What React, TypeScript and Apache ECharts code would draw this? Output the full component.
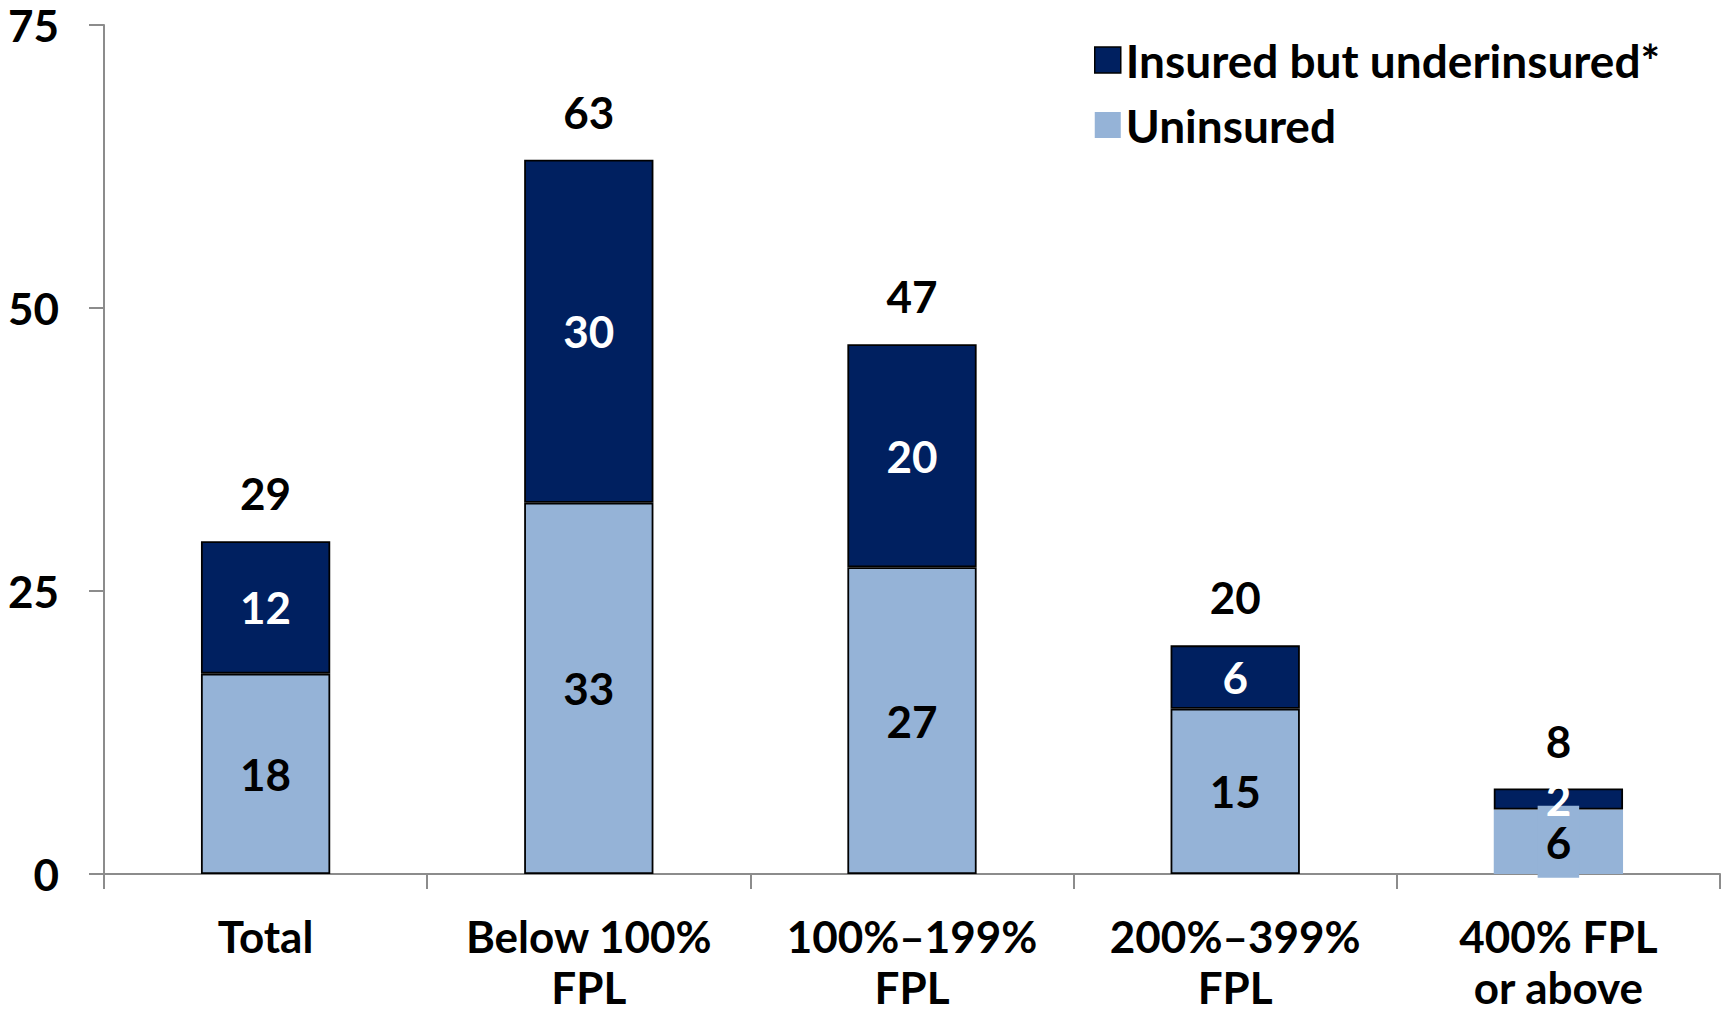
import React, { useEffect, useRef } from "react";
import * as echarts from "echarts";

const categories = ["Total", "Below 100%\nFPL", "100%–199%\nFPL", "200%–399%\nFPL", "400% FPL\nor above"];
const uninsured = [17.7, 32.8, 27.1, 14.6, 5.7];
const underinsured = [11.7, 30.3, 19.7, 5.6, 1.85];
const yTicks = [0, 25, 50, 75];

const FONT = "Lato";
const DARK = "#002060";
const LIGHT = "#95B3D7";

export default function App() {
  const ref = useRef<HTMLDivElement>(null);
  useEffect(() => {
    const chart = echarts.init(ref.current!, undefined, { renderer: "svg" });
    const totals = uninsured.map((v, i) => v + underinsured[i]);
    const labelBase = { fontFamily: FONT, fontWeight: "bold" as const, fontSize: 44 };
    const last = uninsured.length - 1;
    chart.setOption({
      animation: false,
      textStyle: { fontFamily: FONT },
      grid: { left: 104, top: 25, right: 9, bottom: 139, containLabel: false, outerBoundsMode: "none" },
      legend: {
        orient: "vertical",
        left: 1089,
        top: 32,
        itemWidth: 26,
        itemHeight: 26,
        itemGap: 19,
        itemTextGap: 11,
        icon: "rect",
        textStyle: { ...labelBase, fontSize: 46, color: "#000", lineHeight: 44 },
        data: [
          { name: "Insured but underinsured*", itemStyle: { borderColor: "#000", borderWidth: 1.5 } },
          { name: "Uninsured", itemStyle: { borderWidth: 0 } },
        ],
      },
      xAxis: {
        type: "category",
        data: categories,
        axisLine: { lineStyle: { color: "#8c8c8c", width: 2 } },
        axisTick: { show: true, length: 15, lineStyle: { color: "#8c8c8c", width: 2 } },
        axisLabel: { ...labelBase, color: "#000", margin: 36, lineHeight: 51, interval: 0 },
      },
      yAxis: {
        type: "value",
        min: yTicks[0],
        max: yTicks[yTicks.length - 1],
        interval: 25,
        splitLine: { show: false },
        axisLine: { show: true, lineStyle: { color: "#8c8c8c", width: 2 } },
        axisTick: { show: true, length: 15, lineStyle: { color: "#8c8c8c", width: 2 } },
        axisLabel: { ...labelBase, color: "#000", margin: 45 },
      },
      series: [
        {
          name: "Uninsured",
          type: "bar",
          stack: "s",
          barWidth: "40%",
          data: uninsured.map((v, i) =>
            i === last
              ? {
                  value: v,
                  itemStyle: { borderWidth: 0 },
                  label: { backgroundColor: LIGHT, padding: [14, 8, 14, 8] },
                }
              : v
          ),
          itemStyle: { color: LIGHT, borderColor: "#000", borderWidth: 1.8 },
          label: {
            show: true,
            position: "inside",
            ...labelBase,
            color: "#000",
            formatter: (p: any) => String(Math.round(p.value)),
          },
        },
        {
          name: "Insured but underinsured*",
          type: "bar",
          stack: "s",
          barWidth: "40%",
          data: underinsured,
          itemStyle: { color: DARK, borderColor: "#000", borderWidth: 1.8 },
          label: {
            show: true,
            position: "inside",
            ...labelBase,
            color: "#fff",
            formatter: (p: any) => String(Math.round(p.value)),
          },
        },
        {
          name: "total",
          type: "bar",
          stack: "s",
          barWidth: "40%",
          data: totals.map(() => 0),
          itemStyle: { color: "transparent", borderWidth: 0 },
          label: {
            show: true,
            position: "top",
            distance: 26,
            ...labelBase,
            color: "#000",
            formatter: (p: any) => String(Math.round(totals[p.dataIndex])),
          },
        },
      ],
    });
    return () => chart.dispose();
  }, []);
  return (
    <div
      ref={ref}
      style={{ position: "absolute", left: 0, top: 0, width: 1729, height: 1013, background: "#fff" }}
    />
  );
}
